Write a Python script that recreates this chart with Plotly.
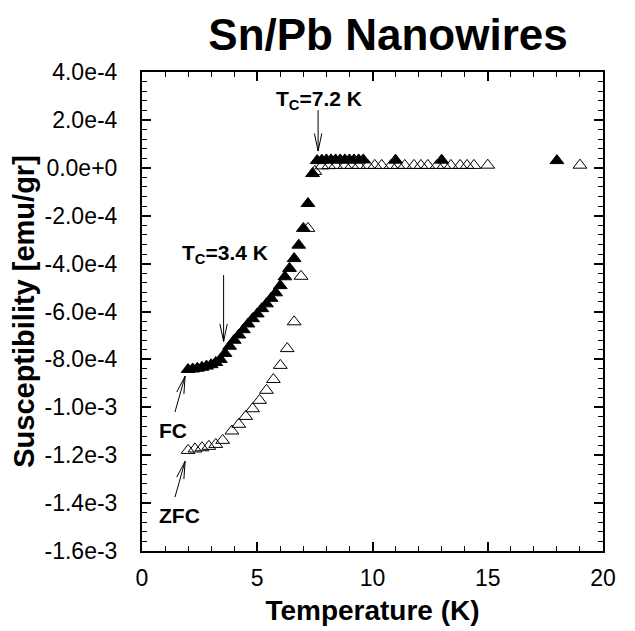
import math
import plotly.graph_objects as go

# ---------------- data ----------------
fc_temp = [2.0, 2.2, 2.4, 2.6, 2.8, 3.0, 3.2, 3.4, 3.6, 3.8, 4.0, 4.2, 4.4, 4.6,
           4.8, 5.0, 5.2, 5.4, 5.6, 5.8, 6.0, 6.2, 6.4, 6.6, 6.8, 7.0, 7.2, 7.4,
           7.6, 7.8, 8.0, 8.2, 8.4, 8.6, 8.8, 9.0, 9.2, 9.4, 9.6, 11.0, 13.0, 18.0]
fc_chi = [-8.42e-4, -8.40e-4, -8.37e-4, -8.33e-4, -8.28e-4, -8.22e-4, -8.13e-4,
          -8.00e-4, -7.75e-4, -7.45e-4, -7.20e-4, -6.98e-4, -6.76e-4, -6.52e-4,
          -6.30e-4, -6.10e-4, -5.88e-4, -5.68e-4, -5.45e-4, -5.22e-4, -4.92e-4,
          -4.55e-4, -4.20e-4, -3.79e-4, -3.23e-4, -2.53e-4, -1.49e-4, -0.24e-4,
          0.30e-4, 0.32e-4, 0.33e-4, 0.33e-4, 0.33e-4, 0.33e-4, 0.33e-4, 0.33e-4,
          0.33e-4, 0.33e-4, 0.33e-4, 0.32e-4, 0.32e-4, 0.30e-4]

zfc_temp = [2.0, 2.3, 2.6, 2.9, 3.2, 3.5, 3.9, 4.2, 4.5, 4.8, 5.1, 5.4, 5.7, 6.0,
            6.3, 6.6, 6.9, 7.2, 7.5, 7.8, 8.1, 8.4, 8.8, 9.1, 9.4, 9.8, 10.1,
            10.4, 10.8, 11.1, 11.4, 11.8, 12.1, 12.4, 12.8, 13.1, 13.4, 13.8,
            14.1, 14.4, 15.0, 19.0]
zfc_chi = [-11.80e-4, -11.74e-4, -11.69e-4, -11.63e-4, -11.55e-4, -11.38e-4,
           -10.99e-4, -10.71e-4, -10.38e-4, -10.06e-4, -9.71e-4, -9.29e-4,
           -8.84e-4, -8.25e-4, -7.55e-4, -6.43e-4, -4.53e-4, -2.53e-4, -0.15e-4,
           0.08e-4, 0.09e-4, 0.10e-4, 0.10e-4, 0.10e-4, 0.10e-4, 0.10e-4, 0.10e-4,
           0.10e-4, 0.10e-4, 0.10e-4, 0.10e-4, 0.10e-4, 0.10e-4, 0.10e-4, 0.10e-4,
           0.10e-4, 0.10e-4, 0.10e-4, 0.10e-4, 0.10e-4, 0.11e-4, 0.11e-4]

x_tickvals = [0, 5, 10, 15, 20]
y_tickvals = [4e-4, 2e-4, 0, -2e-4, -4e-4, -6e-4, -8e-4, -1.0e-3, -1.2e-3, -1.4e-3, -1.6e-3]
y_ticktext = ["4.0e-4", "2.0e-4", "0.0e+0", "-2.0e-4", "-4.0e-4", "-6.0e-4",
              "-8.0e-4", "-1.0e-3", "-1.2e-3", "-1.4e-3", "-1.6e-3"]

# ---------------- layout geometry ----------------
# (page body adds an 8px offset; margins compensate for it)
W, H = 635, 631
ML, MR, MT, MB = 129, 40, 64, 88
XR = (0, 20)
YR = (-1.6e-3, 4e-4)
px_x = (W - ML - MR) / (XR[1] - XR[0])
px_y = (H - MT - MB) / (YR[1] - YR[0])

FONT = "Liberation Sans, Arial, sans-serif"

fig = go.Figure()
fig.add_trace(go.Scatter(
    x=fc_temp, y=fc_chi, mode="markers", name="FC",
    marker=dict(symbol="triangle-up", size=12, color="black",
                line=dict(color="black", width=1))))
fig.add_trace(go.Scatter(
    x=zfc_temp, y=zfc_chi, mode="markers", name="ZFC",
    marker=dict(symbol="triangle-up-open", size=12, color="black",
                line=dict(color="black", width=1))))


def open_arrow(x0, y0, x1, y1, head=18, ang=12):
    """Thin arrow with open V head; tail (x0,y0) -> tip (x1,y1) in data units."""
    shapes = [dict(type="line", x0=x0, y0=y0, x1=x1, y1=y1,
                   line=dict(color="black", width=1))]
    dxp = (x1 - x0) * px_x
    dyp = (y1 - y0) * px_y
    L = math.hypot(dxp, dyp)
    ux, uy = dxp / L, dyp / L
    for s in (1, -1):
        a = math.radians(ang) * s
        bx = -(ux * math.cos(a) - uy * math.sin(a)) * head
        by = -(ux * math.sin(a) + uy * math.cos(a)) * head
        shapes.append(dict(type="line", x0=x1, y0=y1,
                           x1=x1 + bx / px_x, y1=y1 + by / px_y,
                           line=dict(color="black", width=1)))
    return shapes


shapes = []
shapes += open_arrow(7.64, 2.41e-4, 7.64, 0.70e-4)
shapes += open_arrow(3.54, -4.48e-4, 3.54, -7.25e-4)
shapes += open_arrow(1.43, -10.2e-4, 1.87, -8.70e-4)
shapes += open_arrow(1.43, -13.75e-4, 1.87, -12.25e-4)

ann_font = dict(family=FONT, size=21, color="black")
annotations = [
    dict(x=7.69, y=2.83e-4, text="<b>T<sub>C</sub>=7.2 K</b>", showarrow=False,
         font=ann_font, xref="x", yref="y"),
    dict(x=3.61, y=-3.58e-4, text="<b>T<sub>C</sub>=3.4 K</b>", showarrow=False,
         font=ann_font, xref="x", yref="y"),
    dict(x=1.33, y=-10.96e-4, text="<b>FC</b>", showarrow=False,
         font=ann_font, xref="x", yref="y"),
    dict(x=1.61, y=-14.51e-4, text="<b>ZFC</b>", showarrow=False,
         font=ann_font, xref="x", yref="y"),
]

axis_common = dict(showline=True, linecolor="black", linewidth=2, mirror="ticks",
                   ticks="inside", tickcolor="black", tickwidth=1.5, ticklen=9,
                   showgrid=False, zeroline=False,
                   tickfont=dict(family=FONT, size=23, color="black"))

fig.update_layout(
    width=W, height=H,
    margin=dict(l=ML, r=MR, t=MT, b=MB),
    paper_bgcolor="white", plot_bgcolor="white",
    showlegend=False,
    title=dict(text="<b>Sn/Pb Nanowires</b>", x=380 / W, xanchor="center",
               y=1 - 27 / H, yanchor="middle",
               font=dict(family=FONT, size=44, color="black")),
    xaxis=dict(range=list(XR), tickvals=x_tickvals, ticklabelstandoff=5,
               title=dict(text="<b>Temperature (K)</b>", standoff=11,
                          font=dict(family=FONT, size=28, color="black")),
               minor=dict(dtick=1, ticks="inside", ticklen=5, tickcolor="black", tickwidth=1),
               **axis_common),
    yaxis=dict(range=list(YR), tickvals=y_tickvals, ticktext=y_ticktext,
               ticklabelstandoff=18,
               title=dict(text="<b>Susceptibility [emu/gr]</b>", standoff=4,
                          font=dict(family=FONT, size=29, color="black")),
               minor=dict(dtick=4e-5, tick0=0, ticks="inside", ticklen=5,
                          tickcolor="black", tickwidth=1),
               **axis_common),
    shapes=shapes,
    annotations=annotations,
)

fig.write_html("out.html")
